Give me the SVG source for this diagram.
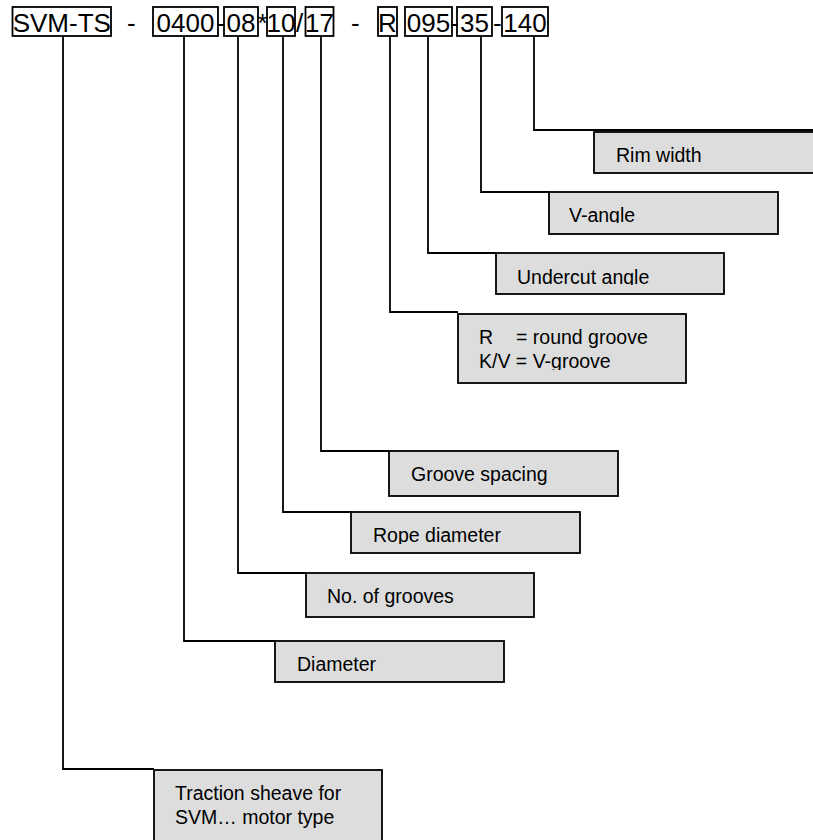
<svg xmlns="http://www.w3.org/2000/svg" width="813" height="840" viewBox="0 0 813 840">
<defs>
<style>
.code{font-family:"Liberation Sans",Arial,sans-serif;font-size:26px;fill:#000}
.cbox{fill:none;stroke:#000;stroke-width:1.8}
.box{fill:#dddddd;stroke:#000;stroke-width:1.8}
.lbl{font-family:"Liberation Sans",Arial,sans-serif;font-size:19.5px;fill:#000}
.conn{fill:none;stroke:#000;stroke-width:1.8}
</style>
<clipPath id="cVangle"><rect x="549" y="192" width="229" height="31"/></clipPath>
<clipPath id="cUnder"><rect x="496" y="253" width="228" height="32"/></clipPath>
<clipPath id="cRound"><rect x="458" y="314" width="228" height="56"/></clipPath>
<clipPath id="cRope"><rect x="351" y="512" width="229" height="32"/></clipPath>
</defs>
<rect width="813" height="840" fill="#fff"/>

<g id="code">
<rect class="cbox" x="12.5" y="7" width="98.5" height="29"/>
<text class="code" x="61.75" y="31.5" text-anchor="middle">SVM-TS</text>
<text class="code" x="127" y="31.5">-</text>
<rect class="cbox" x="153" y="7" width="65" height="29"/>
<text class="code" x="185.5" y="31.5" text-anchor="middle">0400</text>
<text class="code" x="216.5" y="31.5" font-size="24">-</text>
<rect class="cbox" x="224" y="7" width="34" height="29"/>
<text class="code" x="241" y="31.5" text-anchor="middle">08</text>
<text class="code" x="257.5" y="31.5" font-size="24">*</text>
<rect class="cbox" x="267" y="7" width="28" height="29"/>
<text class="code" x="281" y="31.5" text-anchor="middle">10</text>
<text class="code" x="296" y="31.5">/</text>
<rect class="cbox" x="305.5" y="7" width="28" height="29"/>
<text class="code" x="319.5" y="31.5" text-anchor="middle">17</text>
<text class="code" x="351" y="31.5">-</text>
<rect class="cbox" x="378" y="7" width="19" height="29"/>
<text class="code" x="387.5" y="31.5" text-anchor="middle">R</text>
<rect class="cbox" x="405" y="7" width="47" height="29"/>
<text class="code" x="428.5" y="31.5" text-anchor="middle">095</text>
<text class="code" x="450" y="31.5">-</text>
<rect class="cbox" x="457" y="7" width="35" height="29"/>
<text class="code" x="474.5" y="31.5" text-anchor="middle">35</text>
<text class="code" x="493" y="31.5">-</text>
<rect class="cbox" x="502" y="7" width="46" height="29"/>
<text class="code" x="525" y="31.5" text-anchor="middle">140</text>
</g>

<g id="connectors">
<path class="conn" d="M63,36 V769 H154"/>
<path class="conn" d="M184,36 V641 H275"/>
<path class="conn" d="M238,36 V573 H306"/>
<path class="conn" d="M283,36 V512 H351"/>
<path class="conn" d="M321,36 V451 H389"/>
<path class="conn" d="M390,36 V312 H458"/>
<path class="conn" d="M428,36 V253 H496"/>
<path class="conn" d="M481,36 V192 H549"/>
<path class="conn" d="M534,36 V130 H813"/>
</g>

<g id="rim">
<rect class="box" x="594" y="132" width="240" height="41"/>
<text class="lbl" x="616" y="162">Rim width</text>
</g>
<g id="vangle">
<rect class="box" x="549" y="192" width="229" height="42"/>
<text class="lbl" x="569" y="222" clip-path="url(#cVangle)">V-angle</text>
</g>
<g id="undercut">
<rect class="box" x="496" y="253" width="228" height="41"/>
<text class="lbl" x="517" y="284" clip-path="url(#cUnder)">Undercut angle</text>
</g>
<g id="groovetype">
<rect class="box" x="458" y="314" width="228" height="69"/>
<g clip-path="url(#cRound)">
<text class="lbl" y="344"><tspan x="479">R</tspan><tspan x="516">= round groove</tspan></text>
<text class="lbl" x="479" y="368">K/V = V-groove</text>
</g>
</g>
<g id="spacing">
<rect class="box" x="389" y="451" width="229" height="45"/>
<text class="lbl" x="411" y="481">Groove spacing</text>
</g>
<g id="rope">
<rect class="box" x="351" y="512" width="229" height="41"/>
<text class="lbl" x="373" y="542" clip-path="url(#cRope)">Rope diameter</text>
</g>
<g id="nogrooves">
<rect class="box" x="306" y="573" width="228" height="44"/>
<text class="lbl" x="327" y="603">No. of grooves</text>
</g>
<g id="diameter">
<rect class="box" x="275" y="641" width="229" height="41"/>
<text class="lbl" x="297" y="671">Diameter</text>
</g>
<g id="traction">
<rect class="box" x="154" y="770" width="228" height="90"/>
<text class="lbl" x="175" y="800">Traction sheave for</text>
<text class="lbl" x="175" y="824">SVM… motor type</text>
</g>
</svg>
